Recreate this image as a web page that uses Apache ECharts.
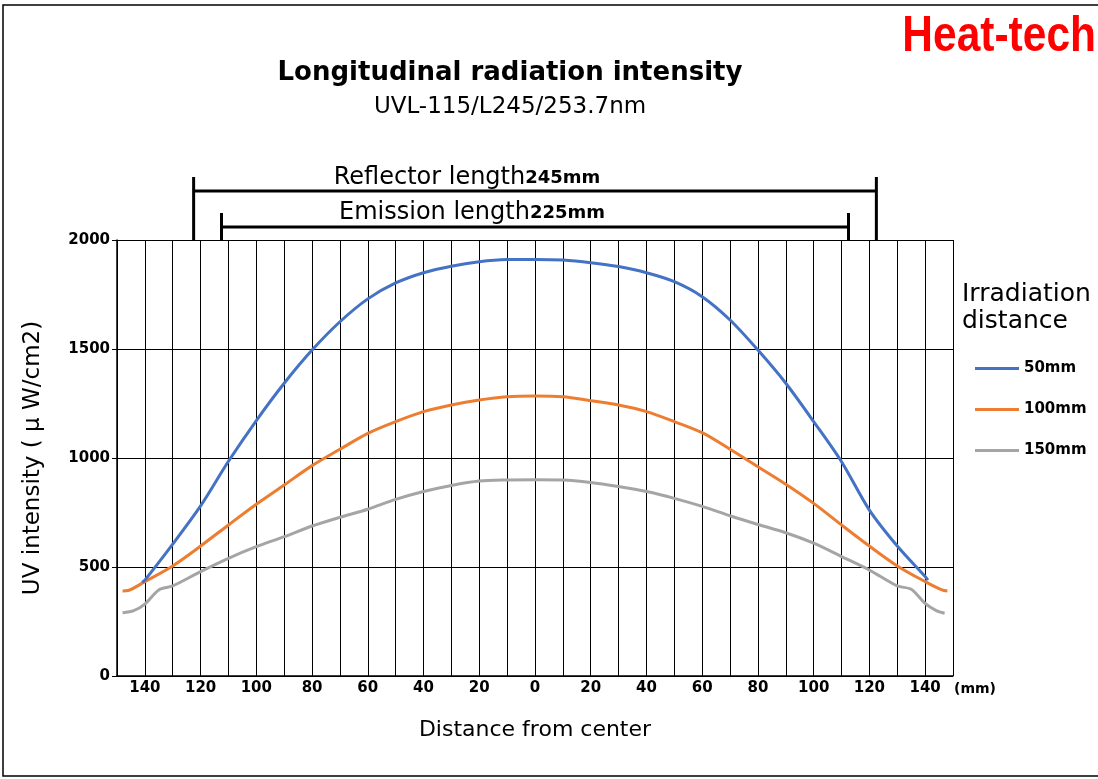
<!DOCTYPE html>
<html>
<head>
<meta charset="utf-8">
<script src="https://cdn.jsdelivr.net/npm/echarts@6/dist/echarts.min.js"></script>
<style>
  html, body { margin: 0; padding: 0; background: #fff; }
  #main { width: 1098px; height: 779px; }
</style>
</head>
<body>
<div id="main"></div>
<script>
// series names (irradiation distance)
var seriesNames = ['50mm', '100mm', '150mm'];
var seriesColors = ['#4472C4', '#ED7D31', '#A5A5A5'];

// [distance from center (mm), UV intensity (μW/cm2)]
var dist50 = [
  [-141, 430], [-140, 440], [-130, 605], [-120, 780], [-110, 985], [-100, 1172],
  [-90, 1343], [-80, 1495], [-70, 1625], [-60, 1730], [-50, 1803], [-40, 1850],
  [-30, 1880], [-20, 1900], [-10, 1910], [0, 1911], [10, 1908], [20, 1896],
  [30, 1878], [40, 1850], [50, 1809], [60, 1740], [70, 1633], [80, 1495],
  [90, 1343], [100, 1167], [110, 983], [120, 761], [130, 596], [140, 456], [141, 440]
];
var dist100 = [
  [-148, 390], [-146, 392], [-140, 433], [-130, 505], [-120, 596], [-110, 693],
  [-100, 788], [-90, 876], [-80, 965], [-70, 1040], [-60, 1113], [-50, 1167],
  [-40, 1213], [-30, 1243], [-20, 1266], [-10, 1281], [0, 1284], [10, 1281],
  [20, 1263], [30, 1243], [40, 1213], [50, 1167], [60, 1116], [70, 1040],
  [80, 960], [90, 880], [100, 792], [110, 693], [120, 596], [130, 505],
  [140, 433], [146, 395], [148, 390]
];
var dist150 = [
  [-148, 290], [-144, 300], [-140, 330], [-135, 395], [-130, 413], [-120, 479],
  [-110, 540], [-100, 593], [-90, 639], [-80, 688], [-70, 728], [-60, 765],
  [-50, 810], [-40, 846], [-30, 874], [-20, 894], [-10, 899], [0, 900],
  [10, 899], [20, 888], [30, 869], [40, 846], [50, 815], [60, 778],
  [70, 735], [80, 695], [90, 657], [100, 609], [110, 548], [120, 486],
  [130, 413], [135, 398], [140, 333], [144, 300], [147, 288]
];

// lamp dimensions drawn as brackets above the plot (mm)
var reflectorLength = 245;
var emissionLength = 225;

var chart = echarts.init(document.getElementById('main'));
var labelBold = { fontFamily: 'DejaVu Sans', fontWeight: 'bold', fontSize: 15, color: '#000' };

function makeSeries(name, data, color) {
  return {
    name: name,
    type: 'line',
    data: data,
    showSymbol: false,
    smooth: 0.3,
    lineStyle: { width: 3, color: color },
    itemStyle: { color: color }
  };
}

var option = {
  animation: false,
  backgroundColor: '#fff',
  title: {
    text: 'Longitudinal radiation intensity',
    subtext: 'UVL-115/L245/253.7nm',
    left: 505,
    top: 55,
    textAlign: 'center',
    itemGap: 10,
    textStyle: { fontFamily: 'DejaVu Sans', fontWeight: 'bold', fontSize: 26, color: '#000' },
    subtextStyle: { fontFamily: 'DejaVu Sans', fontSize: 23, color: '#000' }
  },
  legend: {
    data: seriesNames,
    orient: 'vertical',
    left: 975,
    top: 361,
    itemWidth: 44,
    itemHeight: 3,
    itemGap: 26,
    icon: 'rect',
    padding: 0,
    textStyle: { fontFamily: 'DejaVu Sans', fontWeight: 'bold', fontSize: 15, color: '#000' }
  },
  grid: { left: 117, right: 145, top: 240, bottom: 103, containLabel: false },
  xAxis: {
    type: 'value',
    min: -150,
    max: 150,
    interval: 10,
    name: 'Distance from center',
    nameLocation: 'middle',
    nameGap: 43,
    nameTextStyle: { fontFamily: 'DejaVu Sans', fontSize: 22, color: '#000' },
    axisLine: { show: true, onZero: false, lineStyle: { color: '#000', width: 1.5 } },
    axisTick: { show: false },
    splitLine: { show: true, lineStyle: { color: '#000', width: 1 } },
    axisLabel: Object.assign({
      margin: 5,
      formatter: function (v) {
        return (v % 20 === 0 && Math.abs(v) < 150) ? String(Math.abs(v)) : '';
      }
    }, labelBold)
  },
  yAxis: {
    type: 'value',
    min: 0,
    max: 2000,
    interval: 500,
    name: 'UV intensity ( μ W/cm2)',
    nameLocation: 'middle',
    nameGap: 72,
    nameTextStyle: { fontFamily: 'DejaVu Sans', fontSize: 23, color: '#000' },
    axisLine: { show: true, onZero: false, lineStyle: { color: '#000', width: 1.5 } },
    axisTick: { show: true, length: 5, lineStyle: { color: '#000' } },
    splitLine: { show: true, lineStyle: { color: '#000', width: 1 } },
    axisLabel: Object.assign({
      margin: 7,
      formatter: function (v) { return String(v); }
    }, labelBold)
  },
  series: [
    makeSeries(seriesNames[2], dist150, seriesColors[2]),
    makeSeries(seriesNames[1], dist100, seriesColors[1]),
    makeSeries(seriesNames[0], dist50, seriesColors[0])
  ]
};
chart.setOption(option);

// annotations positioned through the x axis scale
function px(v) { return chart.convertToPixel({ xAxisIndex: 0 }, v); }
var plotTop = chart.convertToPixel({ yAxisIndex: 0 }, 2000);
var rL = px(-reflectorLength / 2), rR = px(reflectorLength / 2);
var eL = px(-emissionLength / 2), eR = px(emissionLength / 2);
var br = { stroke: '#000', lineWidth: 3 };
var bracketRich = {
  a: { fontFamily: 'DejaVu Sans', fontSize: 24, fill: '#000' },
  b: { fontFamily: 'DejaVu Sans', fontWeight: 'bold', fontSize: 18, fill: '#000' }
};

chart.setOption({
  graphic: [
    // frame
    { type: 'rect', shape: { x: 3, y: 5, width: 1100, height: 771 }, style: { fill: null, stroke: '#000', lineWidth: 1.5 }, silent: true },
    // reflector bracket
    { type: 'line', shape: { x1: rL, y1: 177, x2: rL, y2: plotTop }, style: br },
    { type: 'line', shape: { x1: rR, y1: 177, x2: rR, y2: plotTop }, style: br },
    { type: 'line', shape: { x1: rL, y1: 191, x2: rR, y2: 191 }, style: br },
    // emission bracket
    { type: 'line', shape: { x1: eL, y1: 213, x2: eL, y2: plotTop }, style: br },
    { type: 'line', shape: { x1: eR, y1: 213, x2: eR, y2: plotTop }, style: br },
    { type: 'line', shape: { x1: eL, y1: 227, x2: eR, y2: 227 }, style: br },
    {
      type: 'text', x: 467, y: 190,
      style: { text: '{a|Reflector length}{b|245mm}', align: 'center', verticalAlign: 'bottom', rich: bracketRich }
    },
    {
      type: 'text', x: 472, y: 225,
      style: { text: '{a|Emission length}{b|225mm}', align: 'center', verticalAlign: 'bottom', rich: bracketRich }
    },
    // unit after the x labels
    {
      type: 'text', x: 954, y: 689,
      style: { text: '(mm)', fontFamily: 'DejaVu Sans', fontWeight: 'bold', fontSize: 14, fill: '#000', verticalAlign: 'middle' }
    },
    // legend heading
    {
      type: 'text', x: 962, y: 281,
      style: { text: 'Irradiation\ndistance', fontFamily: 'DejaVu Sans', fontSize: 25, lineHeight: 27, fill: '#000' }
    },
    // brand
    {
      type: 'text', x: 1096, y: 37, scaleX: 0.85,
      style: {
        text: 'Heat-tech', align: 'right', verticalAlign: 'middle',
        fontFamily: 'Liberation Sans', fontWeight: 'bold', fontSize: 50, fill: '#f00'
      }
    }
  ]
});

window.onresize = chart.resize;
</script>
</body>
</html>
